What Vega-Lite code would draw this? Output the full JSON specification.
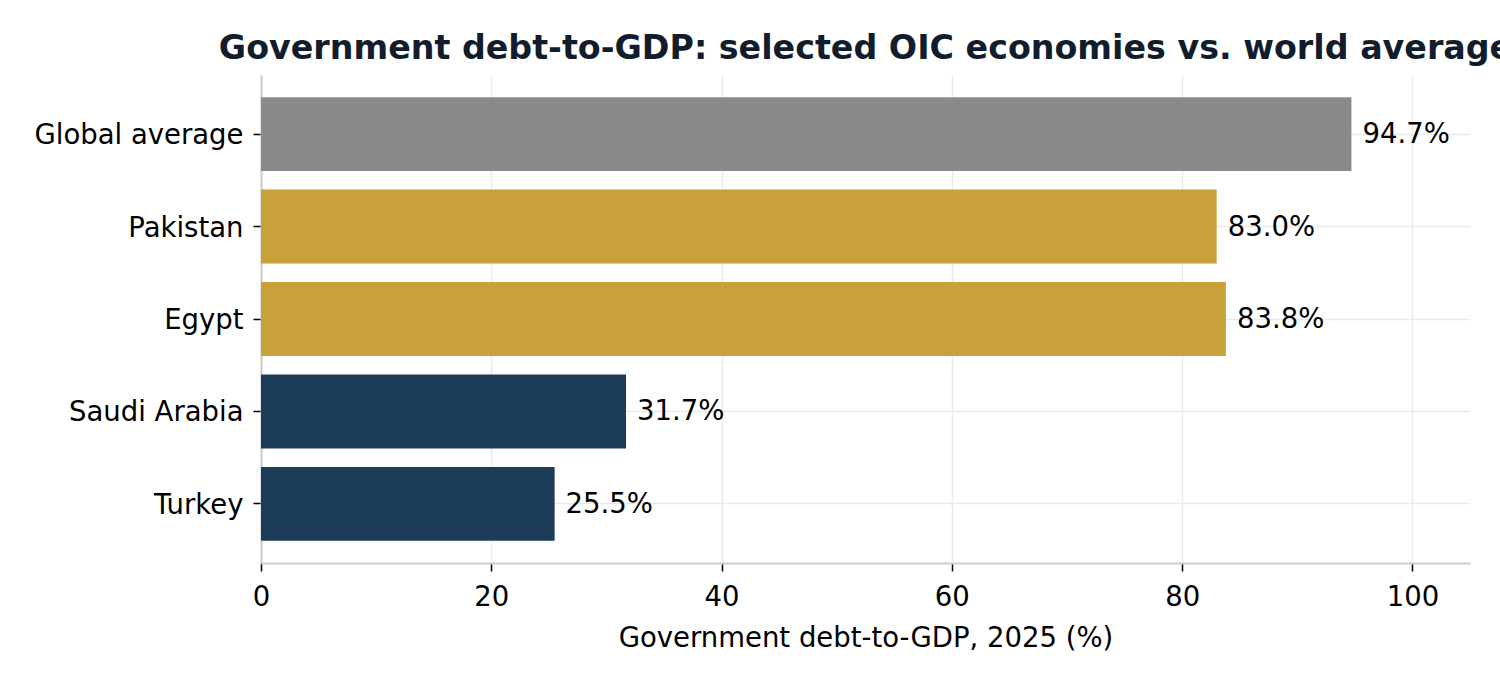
{
  "$schema": "https://vega.github.io/schema/vega-lite/v6.json",
  "width": 1209,
  "height": 488,
  "autosize": {"type": "none"},
  "padding": {"left": 261, "top": 75, "right": 30, "bottom": 117},
  "background": "#ffffff",
  "title": {
    "text": "Government debt-to-GDP: selected OIC economies vs. world average",
    "font": "DejaVu Sans",
    "fontSize": 33.3,
    "fontWeight": "bold",
    "color": "#111c2c",
    "anchor": "middle",
    "frame": "group",
    "offset": 9
  },
  "config": {
    "view": {"stroke": null},
    "font": "DejaVu Sans",
    "axis": {
      "labelFont": "DejaVu Sans",
      "titleFont": "DejaVu Sans",
      "labelFontSize": 27.5,
      "titleFontSize": 27.5,
      "labelColor": "#000000",
      "titleColor": "#000000",
      "titleFontWeight": "normal",
      "labelLimit": 400,
      "domainColor": "#cccccc",
      "domainWidth": 2,
      "tickColor": "#000000",
      "tickWidth": 1.5,
      "tickSize": 8,
      "gridColor": "#ebebeb",
      "gridWidth": 1.5
    }
  },
  "data": {
    "values": [
      {"economy": "Global average", "debt": 94.7, "label": "94.7%", "group": "World"},
      {"economy": "Pakistan", "debt": 83.0, "label": "83.0%", "group": "High"},
      {"economy": "Egypt", "debt": 83.8, "label": "83.8%", "group": "High"},
      {"economy": "Saudi Arabia", "debt": 31.7, "label": "31.7%", "group": "Low"},
      {"economy": "Turkey", "debt": 25.5, "label": "25.5%", "group": "Low"}
    ]
  },
  "encoding": {
    "y": {
      "field": "economy",
      "type": "nominal",
      "sort": null,
      "scale": {"paddingInner": 0.2, "paddingOuter": 0.24},
      "axis": {
        "title": null,
        "grid": true,
        "labelPadding": 10,
        "labelOffset": 2,
        "domain": true
      }
    },
    "x": {
      "field": "debt",
      "type": "quantitative",
      "scale": {"domain": [0, 105], "nice": false},
      "axis": {
        "title": "Government debt-to-GDP, 2025 (%)",
        "values": [0, 20, 40, 60, 80, 100],
        "grid": true,
        "labelFlush": false,
        "labelPadding": 12,
        "titlePadding": 14
      }
    }
  },
  "layer": [
    {
      "mark": {"type": "bar"},
      "encoding": {
        "color": {
          "field": "group",
          "type": "nominal",
          "scale": {"domain": ["World", "High", "Low"], "range": ["#8a8a8a", "#c8a13a", "#1d3c58"]},
          "legend": null
        }
      }
    },
    {
      "mark": {
        "type": "text",
        "align": "left",
        "baseline": "middle",
        "dx": 11,
        "dy": 1,
        "font": "DejaVu Sans",
        "fontSize": 27.5,
        "color": "#000000"
      },
      "encoding": {
        "text": {"field": "label", "type": "nominal"}
      }
    }
  ]
}
